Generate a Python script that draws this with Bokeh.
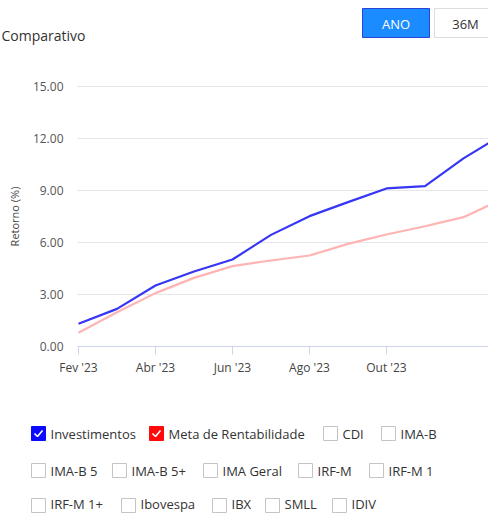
from bokeh.plotting import figure
from bokeh.models import Range1d, FixedTicker, NumeralTickFormatter
from bokeh.core.properties import value
from bokeh.embed import file_html
from bokeh.resources import INLINE

# ---------------- data ----------------
months = ["Fev '23", "Mar '23", "Abr '23", "Mai '23", "Jun '23", "Jul '23",
          "Ago '23", "Set '23", "Out '23", "Nov '23", "Dez '23", "Jan '24"]
investimentos = [1.31, 2.17, 3.52, 4.33, 5.02, 6.44, 7.52, 8.33, 9.12, 9.25, 10.85, 12.2]
meta = [0.79, 1.98, 3.08, 3.96, 4.64, 4.96, 5.25, 5.92, 6.46, 6.94, 7.46, 8.5]
y_ticks = [0, 3, 6, 9, 12, 15]
x_tick_idx = [0, 2, 4, 6, 8]
title_text = "Comparativo"
y_title = "Retorno (%)"
buttons = ["ANO", "36M"]
legend_rows = [
    ["Investimentos", "Meta de Rentabilidade", "CDI", "IMA-B"],
    ["IMA-B 5", "IMA-B 5+", "IMA Geral", "IRF-M", "IRF-M 1"],
    ["IRF-M 1+", "Ibovespa", "IBX", "SMLL", "IDIV"],
]
checked_colors = {"Investimentos": "#0a0aff", "Meta de Rentabilidade": "#ff0a0a"}

# ---------------- style / layout (pixel positions) ----------------
FONT = "Open Sans"
W, H = 488, 513
BLUE = "#3636f4"
PINK = "#ffb4b4"
legend_box_x = [[31, 149, 323, 381], [31, 112, 203, 298, 369], [31, 121, 212, 265, 332]]
legend_row_y = [433, 470, 505]

px_per_month = 38.5
px_per_unit = 260 / 15.0
x_origin_px = 78     # x pixel of first month
y_origin_px = 346    # y pixel of 0.00
plot_left_px = 77

x_start = -x_origin_px / px_per_month
x_end = x_start + W / px_per_month
y_end = y_origin_px / px_per_unit
y_start = y_end - H / px_per_unit
x_left = -(x_origin_px - plot_left_px) / px_per_month


def gx(px):
    return px


def gy(py):
    return H - py


p = figure(width=W, height=H, x_range=Range1d(x_start, x_end),
           y_range=Range1d(y_start, y_end), toolbar_location=None,
           output_backend="svg", min_border=0,
           extra_x_ranges={"px": Range1d(0, W)}, extra_y_ranges={"py": Range1d(0, H)})
p.outline_line_color = None
p.xgrid.visible = False
p.ygrid.visible = False

# grid lines (from the y tick list)
p.segment(x0=[x_left] * len(y_ticks), x1=[x_end] * len(y_ticks), y0=y_ticks, y1=y_ticks,
          line_color="#e6e6e6", line_width=1)

# series
xs = list(range(len(months)))
p.line(xs, investimentos, line_color=BLUE, line_width=2.2)
p.line(xs, meta, line_color=PINK, line_width=2.2)

# x axis
p.xaxis.fixed_location = 0
p.xaxis.bounds = (x_left, x_end)
p.xaxis.ticker = FixedTicker(ticks=x_tick_idx)
p.xaxis.major_label_overrides = {i: months[i] for i in x_tick_idx}
p.xaxis.axis_line_color = "#ccd6eb"
p.xaxis.major_tick_line_color = "#ccd6eb"
p.xaxis.major_tick_out = 8
p.xaxis.major_tick_in = 0
p.xaxis.minor_tick_line_color = None
p.xaxis.major_label_standoff = 4
p.xaxis.major_label_text_font = FONT
p.xaxis.major_label_text_font_size = "12px"
p.xaxis.major_label_text_color = "#444444"

# y axis
p.yaxis.fixed_location = x_left
p.yaxis.bounds = (0, 15)
p.yaxis.ticker = FixedTicker(ticks=y_ticks)
p.yaxis.formatter = NumeralTickFormatter(format="0.00")
p.yaxis.axis_line_color = None
p.yaxis.major_tick_line_color = None
p.yaxis.minor_tick_line_color = None
p.yaxis.major_tick_out = 0
p.yaxis.major_tick_in = 0
p.yaxis.major_label_standoff = 14
p.yaxis.major_label_text_font = FONT
p.yaxis.major_label_text_font_size = "12px"
p.yaxis.major_label_text_color = "#555555"
p.yaxis.axis_label = y_title
p.yaxis.axis_label_text_font = FONT
p.yaxis.axis_label_text_font_size = "11px"
p.yaxis.axis_label_text_font_style = "normal"
p.yaxis.axis_label_text_color = "#444444"
p.yaxis.axis_label_standoff = 8

# header: title + buttons
kw = dict(x_range_name="px", y_range_name="py")
p.text(x=[gx(1)], y=[gy(34.5)], text=[title_text], text_align="left",
       text_baseline="middle", text_font=value(FONT), text_font_size="14px",
       text_color="#333333", **kw)
p.rect(x=[gx((362 + 429) / 2)], y=[gy(22.5)], width=67, height=29,
       fill_color="#1a8cff", line_color="#2a45d8", line_width=1, **kw)
p.rect(x=[gx((434 + 494) / 2)], y=[gy(22.5)], width=60, height=29,
       fill_color="white", line_color="#dddddd", line_width=1, **kw)
p.text(x=[gx(395.5)], y=[gy(23)], text=[buttons[0]], text_align="center",
       text_baseline="middle", text_font=value(FONT), text_font_size="13px",
       text_color="white", **kw)
p.text(x=[gx(465)], y=[gy(23)], text=[buttons[1]], text_align="center",
       text_baseline="middle", text_font=value(FONT), text_font_size="13px",
       text_color="#333333", **kw)

# legend (checkbox list)
for row, bxs, py in zip(legend_rows, legend_box_x, legend_row_y):
    cy = gy(py)
    ty = gy(min(py, 503))
    for name, bx in zip(row, bxs):
        cx = gx(bx) + 7
        col = checked_colors.get(name)
        if col:
            p.rect(x=[cx], y=[cy], width=14, height=14, fill_color=col,
                   line_color=col, line_width=1, **kw)
            p.line(x=[cx - 4, cx - 1, cx + 4], y=[cy, cy - 3, cy + 3],
                   line_color="white", line_width=1.6, **kw)
        else:
            p.rect(x=[cx], y=[cy], width=14, height=14, fill_color="white",
                   line_color="#c4c4c4", line_width=1, **kw)
        p.text(x=[gx(bx) + 19], y=[ty], text=[name], text_align="left",
               text_baseline="middle", text_font=value(FONT),
               text_font_size="13px", text_color="#333333", **kw)

open("out.html", "w").write(file_html(p, INLINE))
